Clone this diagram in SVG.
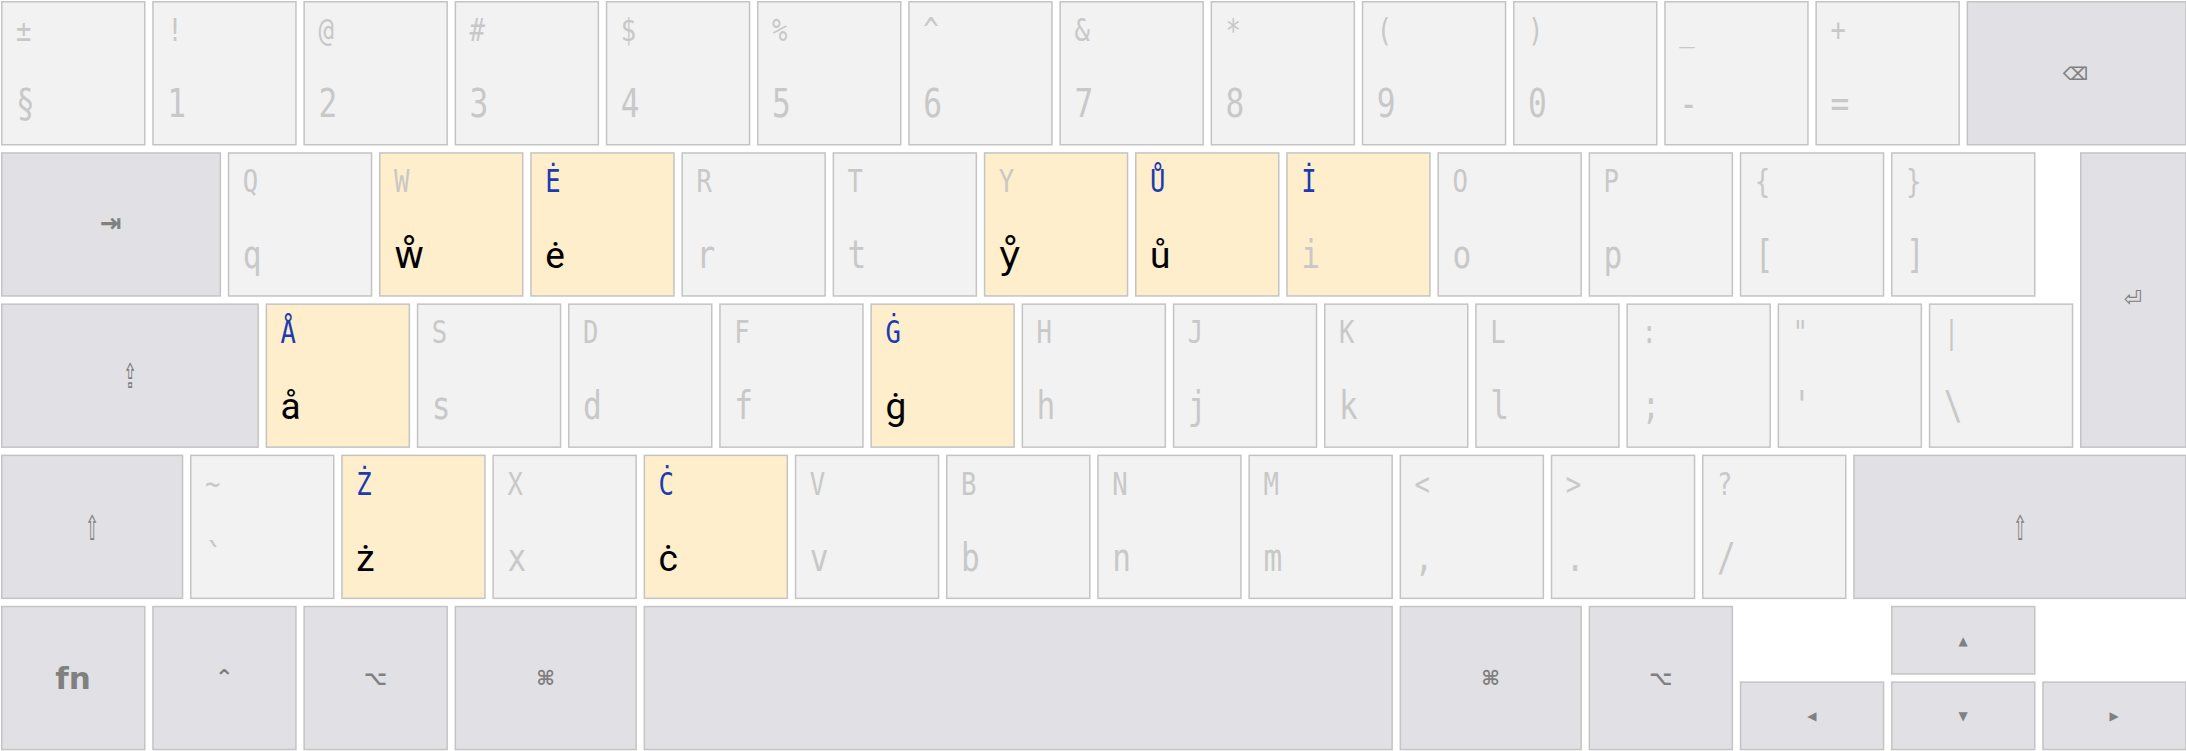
<svg xmlns="http://www.w3.org/2000/svg" width="2186" height="751" viewBox="0 0 2186 751">
<style>
.k{fill:#f2f2f2;stroke:#c4c4c4;stroke-width:1.5}
.m{fill:#e1e1e5}
.h{fill:#feeecb}
.t{font-family:"DejaVu Sans Mono",monospace;font-size:32px;fill:#c8c8c8;transform-box:fill-box;transform-origin:0 50%;transform:scaleX(0.8)}
.b{font-size:39px}
.bl{fill:#1a3bb3}
.a{font-family:Roboto,"DejaVu Sans",sans-serif;font-size:37px;fill:#000}
.s{font-family:"DejaVu Sans",sans-serif;font-size:20px;font-weight:bold;fill:#808080;text-anchor:middle}
.n{font-weight:normal}
.sh{transform-box:fill-box;transform-origin:50% 50%;transform:scaleX(0.5)}
</style>
<rect width="2186" height="751" fill="#fff"/>
<g id="row1">
<g id="k-sect" transform="translate(0,0)"><rect class="k" x="1.75" y="1.75" width="143" height="143"/><text class="t" x="16" y="41">±</text><text class="t b" x="16" y="117">§</text></g>
<g id="k-1" transform="translate(151.2,0)"><rect class="k" x="1.75" y="1.75" width="143" height="143"/><text class="t" x="16" y="41">!</text><text class="t b" x="16" y="117">1</text></g>
<g id="k-2" transform="translate(302.4,0)"><rect class="k" x="1.75" y="1.75" width="143" height="143"/><text class="t" x="16" y="41">@</text><text class="t b" x="16" y="117">2</text></g>
<g id="k-3" transform="translate(453.6,0)"><rect class="k" x="1.75" y="1.75" width="143" height="143"/><text class="t" x="16" y="41">#</text><text class="t b" x="16" y="117">3</text></g>
<g id="k-4" transform="translate(604.8,0)"><rect class="k" x="1.75" y="1.75" width="143" height="143"/><text class="t" x="16" y="41">$</text><text class="t b" x="16" y="117">4</text></g>
<g id="k-5" transform="translate(756,0)"><rect class="k" x="1.75" y="1.75" width="143" height="143"/><text class="t" x="16" y="41">%</text><text class="t b" x="16" y="117">5</text></g>
<g id="k-6" transform="translate(907.2,0)"><rect class="k" x="1.75" y="1.75" width="143" height="143"/><text class="t" x="16" y="41">^</text><text class="t b" x="16" y="117">6</text></g>
<g id="k-7" transform="translate(1058.4,0)"><rect class="k" x="1.75" y="1.75" width="143" height="143"/><text class="t" x="16" y="41">&amp;</text><text class="t b" x="16" y="117">7</text></g>
<g id="k-8" transform="translate(1209.6,0)"><rect class="k" x="1.75" y="1.75" width="143" height="143"/><text class="t" x="16" y="41">*</text><text class="t b" x="16" y="117">8</text></g>
<g id="k-9" transform="translate(1360.8,0)"><rect class="k" x="1.75" y="1.75" width="143" height="143"/><text class="t" x="16" y="41">(</text><text class="t b" x="16" y="117">9</text></g>
<g id="k-0" transform="translate(1512,0)"><rect class="k" x="1.75" y="1.75" width="143" height="143"/><text class="t" x="16" y="41">)</text><text class="t b" x="16" y="117">0</text></g>
<g id="k-minus" transform="translate(1663.2,0)"><rect class="k" x="1.75" y="1.75" width="143" height="143"/><text class="t" x="16" y="41">_</text><text class="t b" x="16" y="117">-</text></g>
<g id="k-equal" transform="translate(1814.4,0)"><rect class="k" x="1.75" y="1.75" width="143" height="143"/><text class="t" x="16" y="41">+</text><text class="t b" x="16" y="117">=</text></g>
<g id="k-backspace" transform="translate(1965.6,0)"><rect class="k m" x="1.75" y="1.75" width="218.6" height="143"/><text class="s" x="110" y="80" style="font-size:18px">⌫</text></g>
</g>
<g id="row2" transform="translate(0,151.2)">
<g id="k-tab" transform="translate(0,0)"><rect class="k m" x="1.75" y="1.75" width="218.6" height="143"/><text class="s" x="111" y="81" style="font-size:26px">⇥</text></g>
<g id="k-q" transform="translate(226.8,0)"><rect class="k" x="1.75" y="1.75" width="143" height="143"/><text class="t" x="16" y="41">Q</text><text class="t b" x="16" y="117">q</text></g>
<g id="k-w" transform="translate(378,0)"><rect class="k h" x="1.75" y="1.75" width="143" height="143"/><text class="t" x="16" y="41">W</text><text class="a" x="16" y="117">ẘ</text></g>
<g id="k-e" transform="translate(529.2,0)"><rect class="k h" x="1.75" y="1.75" width="143" height="143"/><text class="t bl" x="16" y="41">Ė</text><text class="a" x="16" y="117">ė</text></g>
<g id="k-r" transform="translate(680.4,0)"><rect class="k" x="1.75" y="1.75" width="143" height="143"/><text class="t" x="16" y="41">R</text><text class="t b" x="16" y="117">r</text></g>
<g id="k-t" transform="translate(831.6,0)"><rect class="k" x="1.75" y="1.75" width="143" height="143"/><text class="t" x="16" y="41">T</text><text class="t b" x="16" y="117">t</text></g>
<g id="k-y" transform="translate(982.8,0)"><rect class="k h" x="1.75" y="1.75" width="143" height="143"/><text class="t" x="16" y="41">Y</text><text class="a" x="16" y="117">ẙ</text></g>
<g id="k-u" transform="translate(1134,0)"><rect class="k h" x="1.75" y="1.75" width="143" height="143"/><text class="t bl" x="16" y="41">Ů</text><text class="a" x="16" y="117">ů</text></g>
<g id="k-i" transform="translate(1285.2,0)"><rect class="k h" x="1.75" y="1.75" width="143" height="143"/><text class="t bl" x="16" y="41">İ</text><text class="t b" x="16" y="117">i</text></g>
<g id="k-o" transform="translate(1436.4,0)"><rect class="k" x="1.75" y="1.75" width="143" height="143"/><text class="t" x="16" y="41">O</text><text class="t b" x="16" y="117">o</text></g>
<g id="k-p" transform="translate(1587.6,0)"><rect class="k" x="1.75" y="1.75" width="143" height="143"/><text class="t" x="16" y="41">P</text><text class="t b" x="16" y="117">p</text></g>
<g id="k-lbracket" transform="translate(1738.8,0)"><rect class="k" x="1.75" y="1.75" width="143" height="143"/><text class="t" x="16" y="41">{</text><text class="t b" x="16" y="117">[</text></g>
<g id="k-rbracket" transform="translate(1890,0)"><rect class="k" x="1.75" y="1.75" width="143" height="143"/><text class="t" x="16" y="41">}</text><text class="t b" x="16" y="117">]</text></g>
<g id="k-enter" transform="translate(2079,0)"><rect class="k m" x="1.75" y="1.75" width="105.2" height="294.2"/><text class="s n" x="54" y="155" style="font-size:22px">⏎</text></g>
</g>
<g id="row3" transform="translate(0,302.4)">
<g id="k-caps" transform="translate(0,0)"><rect class="k m" x="1.75" y="1.75" width="256.4" height="143"/><text class="s n sh" x="130" y="86" style="font-size:34px">⇪</text></g>
<g id="k-a" transform="translate(264.6,0)"><rect class="k h" x="1.75" y="1.75" width="143" height="143"/><text class="t bl" x="16" y="41">Å</text><text class="a" x="16" y="117">å</text></g>
<g id="k-s" transform="translate(415.8,0)"><rect class="k" x="1.75" y="1.75" width="143" height="143"/><text class="t" x="16" y="41">S</text><text class="t b" x="16" y="117">s</text></g>
<g id="k-d" transform="translate(567,0)"><rect class="k" x="1.75" y="1.75" width="143" height="143"/><text class="t" x="16" y="41">D</text><text class="t b" x="16" y="117">d</text></g>
<g id="k-f" transform="translate(718.2,0)"><rect class="k" x="1.75" y="1.75" width="143" height="143"/><text class="t" x="16" y="41">F</text><text class="t b" x="16" y="117">f</text></g>
<g id="k-g" transform="translate(869.4,0)"><rect class="k h" x="1.75" y="1.75" width="143" height="143"/><text class="t bl" x="16" y="41">Ġ</text><text class="a" x="16" y="117">ġ</text></g>
<g id="k-h" transform="translate(1020.6,0)"><rect class="k" x="1.75" y="1.75" width="143" height="143"/><text class="t" x="16" y="41">H</text><text class="t b" x="16" y="117">h</text></g>
<g id="k-j" transform="translate(1171.8,0)"><rect class="k" x="1.75" y="1.75" width="143" height="143"/><text class="t" x="16" y="41">J</text><text class="t b" x="16" y="117">j</text></g>
<g id="k-k" transform="translate(1323,0)"><rect class="k" x="1.75" y="1.75" width="143" height="143"/><text class="t" x="16" y="41">K</text><text class="t b" x="16" y="117">k</text></g>
<g id="k-l" transform="translate(1474.2,0)"><rect class="k" x="1.75" y="1.75" width="143" height="143"/><text class="t" x="16" y="41">L</text><text class="t b" x="16" y="117">l</text></g>
<g id="k-semicolon" transform="translate(1625.4,0)"><rect class="k" x="1.75" y="1.75" width="143" height="143"/><text class="t" x="16" y="41">:</text><text class="t b" x="16" y="117">;</text></g>
<g id="k-quote" transform="translate(1776.6,0)"><rect class="k" x="1.75" y="1.75" width="143" height="143"/><text class="t" x="16" y="41">"</text><text class="t b" x="16" y="117">'</text></g>
<g id="k-backslash" transform="translate(1927.8,0)"><rect class="k" x="1.75" y="1.75" width="143" height="143"/><text class="t" x="16" y="41">|</text><text class="t b" x="16" y="117">\</text></g>
</g>
<g id="row4" transform="translate(0,453.6)">
<g id="k-lshift" transform="translate(0,0)"><rect class="k m" x="1.75" y="1.75" width="180.8" height="143"/><text class="s n sh" x="92" y="86" style="font-size:34px">⇧</text></g>
<g id="k-grave" transform="translate(189,0)"><rect class="k" x="1.75" y="1.75" width="143" height="143"/><text class="t" x="16" y="41">~</text><text class="t b" x="16" y="117">`</text></g>
<g id="k-z" transform="translate(340.2,0)"><rect class="k h" x="1.75" y="1.75" width="143" height="143"/><text class="t bl" x="16" y="41">Ż</text><text class="a" x="16" y="117">ż</text></g>
<g id="k-x" transform="translate(491.4,0)"><rect class="k" x="1.75" y="1.75" width="143" height="143"/><text class="t" x="16" y="41">X</text><text class="t b" x="16" y="117">x</text></g>
<g id="k-c" transform="translate(642.6,0)"><rect class="k h" x="1.75" y="1.75" width="143" height="143"/><text class="t bl" x="16" y="41">Ċ</text><text class="a" x="16" y="117">ċ</text></g>
<g id="k-v" transform="translate(793.8,0)"><rect class="k" x="1.75" y="1.75" width="143" height="143"/><text class="t" x="16" y="41">V</text><text class="t b" x="16" y="117">v</text></g>
<g id="k-b" transform="translate(945,0)"><rect class="k" x="1.75" y="1.75" width="143" height="143"/><text class="t" x="16" y="41">B</text><text class="t b" x="16" y="117">b</text></g>
<g id="k-n" transform="translate(1096.2,0)"><rect class="k" x="1.75" y="1.75" width="143" height="143"/><text class="t" x="16" y="41">N</text><text class="t b" x="16" y="117">n</text></g>
<g id="k-m" transform="translate(1247.4,0)"><rect class="k" x="1.75" y="1.75" width="143" height="143"/><text class="t" x="16" y="41">M</text><text class="t b" x="16" y="117">m</text></g>
<g id="k-comma" transform="translate(1398.6,0)"><rect class="k" x="1.75" y="1.75" width="143" height="143"/><text class="t" x="16" y="41">&lt;</text><text class="t b" x="16" y="117">,</text></g>
<g id="k-period" transform="translate(1549.8,0)"><rect class="k" x="1.75" y="1.75" width="143" height="143"/><text class="t" x="16" y="41">&gt;</text><text class="t b" x="16" y="117">.</text></g>
<g id="k-slash" transform="translate(1701,0)"><rect class="k" x="1.75" y="1.75" width="143" height="143"/><text class="t" x="16" y="41">?</text><text class="t b" x="16" y="117">/</text></g>
<g id="k-rshift" transform="translate(1852.2,0)"><rect class="k m" x="1.75" y="1.75" width="332" height="143"/><text class="s n sh" x="168" y="86" style="font-size:34px">⇧</text></g>
</g>
<g id="row5" transform="translate(0,604.8)">
<g id="k-fn" transform="translate(0,0)"><rect class="k m" x="1.75" y="1.75" width="143" height="143"/><text class="s" x="73" y="84" style="font-size:31px">fn</text></g>
<g id="k-ctrl" transform="translate(151.2,0)"><rect class="k m" x="1.75" y="1.75" width="143" height="143"/><text class="s" x="73" y="80" style="font-size:22px">⌃</text></g>
<g id="k-lopt" transform="translate(302.4,0)"><rect class="k m" x="1.75" y="1.75" width="143" height="143"/><text class="s" x="73" y="80">⌥</text></g>
<g id="k-lcmd" transform="translate(453.6,0)"><rect class="k m" x="1.75" y="1.75" width="180.8" height="143"/><text class="s" x="92" y="80">⌘</text></g>
<g id="k-space" transform="translate(642.6,0)"><rect class="k m" x="1.75" y="1.75" width="747.8" height="143"/></g>
<g id="k-rcmd" transform="translate(1398.6,0)"><rect class="k m" x="1.75" y="1.75" width="180.8" height="143"/><text class="s" x="92" y="80">⌘</text></g>
<g id="k-ropt" transform="translate(1587.6,0)"><rect class="k m" x="1.75" y="1.75" width="143" height="143"/><text class="s" x="73" y="80">⌥</text></g>
<g id="k-left" transform="translate(1738.8,75.6)"><rect class="k m" x="1.75" y="1.75" width="143" height="67.4"/><text class="s" x="73" y="40" style="font-size:12px">◀</text></g>
<g id="k-up" transform="translate(1890,0)"><rect class="k m" x="1.75" y="1.75" width="143" height="67.4"/><text class="s" x="73" y="40" style="font-size:12px">▲</text></g>
<g id="k-down" transform="translate(1890,75.6)"><rect class="k m" x="1.75" y="1.75" width="143" height="67.4"/><text class="s" x="73" y="40" style="font-size:12px">▼</text></g>
<g id="k-right" transform="translate(2041.2,75.6)"><rect class="k m" x="1.75" y="1.75" width="143" height="67.4"/><text class="s" x="73" y="40" style="font-size:12px">▶</text></g>
</g>
<g id="connectors"/>
</svg>
